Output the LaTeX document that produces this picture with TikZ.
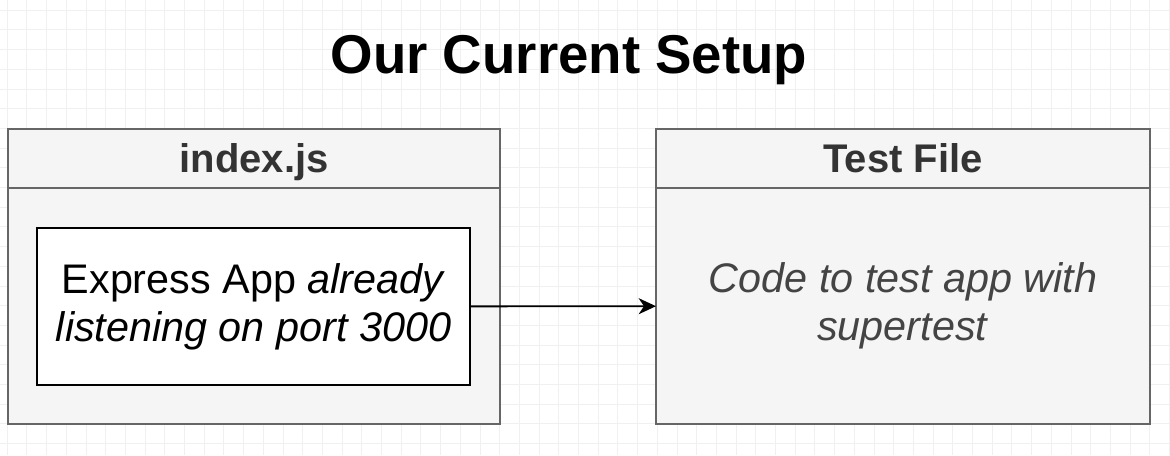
\documentclass[tikz,border=0pt]{standalone}
\usepackage{fontspec}
\setmainfont{Liberation Sans}
\usepackage{tkz-graph}
\usetikzlibrary{arrows}
\usetikzlibrary{arrows.meta}
\usetikzlibrary{shapes}
\definecolor{boxfill}{HTML}{F5F5F5}
\definecolor{boxline}{HTML}{666666}
\definecolor{headtext}{HTML}{333333}
\definecolor{bodytext}{HTML}{444444}
\definecolor{gridline}{HTML}{F0F0F0}

\begin{document}
\begin{tikzpicture}[x = 0.75pt, y = -0.75pt]
	\tikzstyle{VertexStyle} = []
	\tikzstyle{arrowStyle} = [-{Stealth[length = 13pt, width = 12pt, inset = 4pt]}, line width = 1.4pt, draw = black]
	\tikzstyle{titleStyle} = [anchor = base, inner sep = 0pt, font = \fontsize{41}{45}\selectfont\bfseries]
	\tikzstyle{headStyle} = [shape = rectangle, draw = boxline, fill = boxfill, line width = 1.1pt, minimum width = 369pt, minimum height = 44.25pt, text height = 21.6pt, text depth = 0pt, text = headtext, font = \fontsize{30}{34}\selectfont\bfseries]
	\tikzstyle{bodyStyle} = [shape = rectangle, draw = boxline, fill = boxfill, line width = 1.1pt, minimum width = 369pt, minimum height = 177pt, align = center, text = bodytext, font = \fontsize{31}{36}\selectfont]
	\tikzstyle{appStyle} = [shape = rectangle, draw = black, fill = white, line width = 1.1pt, minimum width = 324.75pt, minimum height = 117.75pt, align = center, font = \fontsize{31}{36}\selectfont]
	\useasboundingbox (0,0) rectangle (1170,455);
	% background grid
	\foreach \k in {0,...,59} \draw[gridline] ({7+19.7*\k},0) -- ({7+19.7*\k},455);
	\foreach \k in {0,...,23} \draw[gridline] (0,{10+19.7*\k}) -- (1170,{10+19.7*\k});
	\Vertex[style = titleStyle, x = 569, y = 73, L = {Our Current Setup}]{title}
	\Vertex[style = headStyle, x = 254, y = 158.5, L = {index.js}]{ihead}
	\Vertex[style = bodyStyle, x = 254, y = 306, L = {}]{ibody}
	\Vertex[style = appStyle, x = 253.5, y = 306.5, L = {Express App \textit{already}\\\textit{listening on port 3000}}]{app}
	\Vertex[style = {headStyle, minimum width = 370.5pt}, x = 903, y = 158.5, L = {Test File}]{thead}
	\Vertex[style = {bodyStyle, minimum width = 370.5pt}, x = 903, y = 306, L = {\textit{Code to test app with}\\\textit{supertest}}]{tbody}
	\draw[arrowStyle] (app) -- (tbody);
\end{tikzpicture}
\end{document}
